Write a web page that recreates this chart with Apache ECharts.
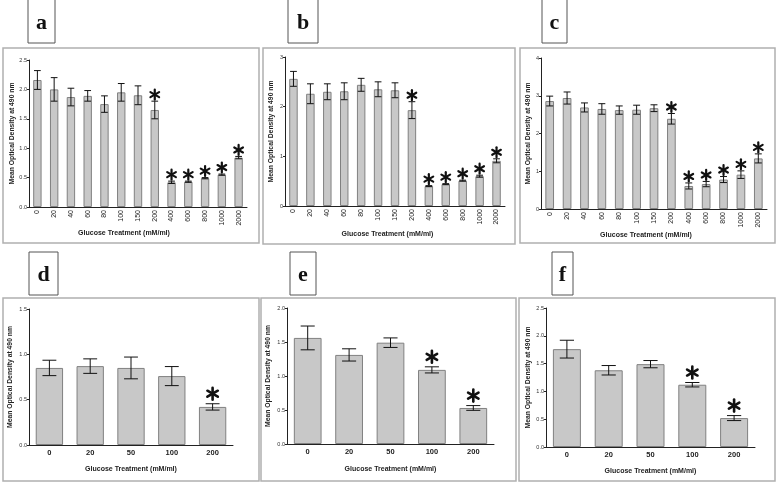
<!DOCTYPE html>
<html lang="en">
<head>
<meta charset="UTF-8">
<title>Glucose treatment</title>
<script src="https://cdn.jsdelivr.net/npm/echarts@6/dist/echarts.min.js"></script>
<style>
  html, body { margin: 0; padding: 0; background: #fff; }
  #main { width: 778px; height: 483px; }
</style>
</head>
<body>
<div id="main"></div>
<script>
// categories
var catsTop = ['0', '20', '40', '60', '80', '100', '150', '200', '400', '600', '800', '1000', '2000'];
var catsBottom = ['0', '20', '50', '100', '200'];

// mean values and error bars
var meanA = [2.16, 2.00, 1.87, 1.89, 1.75, 1.95, 1.90, 1.65, 0.42, 0.43, 0.49, 0.55, 0.84];
var errA  = [0.16, 0.20, 0.15, 0.09, 0.14, 0.15, 0.16, 0.15, 0.02, 0.01, 0.01, 0.01, 0.02];
var meanB = [2.56, 2.26, 2.30, 2.31, 2.44, 2.35, 2.33, 1.93, 0.40, 0.44, 0.51, 0.60, 0.91];
var errB  = [0.15, 0.20, 0.16, 0.17, 0.13, 0.15, 0.15, 0.17, 0.01, 0.01, 0.01, 0.02, 0.04];
var meanC = [2.86, 2.94, 2.69, 2.65, 2.62, 2.63, 2.67, 2.39, 0.61, 0.66, 0.78, 0.91, 1.34];
var errC  = [0.13, 0.16, 0.12, 0.14, 0.11, 0.12, 0.09, 0.14, 0.08, 0.07, 0.08, 0.10, 0.12];
var meanD = [0.85, 0.87, 0.85, 0.76, 0.42];
var errD  = [0.085, 0.08, 0.12, 0.105, 0.035];
var meanE = [1.56, 1.31, 1.49, 1.09, 0.53];
var errE  = [0.175, 0.09, 0.07, 0.045, 0.035];
var meanF = [1.76, 1.38, 1.49, 1.12, 0.52];
var errF  = [0.16, 0.085, 0.065, 0.04, 0.045];

// significance stars (1 = star)
var sigTop = [0, 0, 0, 0, 0, 0, 0, 1, 1, 1, 1, 1, 1];
var sigD   = [0, 0, 0, 0, 1];
var sigEF  = [0, 0, 0, 1, 1];

// y axis ranges
var yMax  = [2.5, 3, 4, 1.5, 2, 2.5];
var yStep = [0.5, 1, 1, 0.5, 0.5, 0.5];
var yDecimals = [1, 0, 0, 1, 1, 1];
var letters = ['a', 'b', 'c', 'd', 'e', 'f'];

var yName = 'Mean Optical Density at 490 nm';
var xName = 'Glucose Treatment (mM/ml)';

var panels = [
    {cats: catsTop, mean: meanA, err: errA, sig: sigTop},
    {cats: catsTop, mean: meanB, err: errB, sig: sigTop},
    {cats: catsTop, mean: meanC, err: errC, sig: sigTop},
    {cats: catsBottom, mean: meanD, err: errD, sig: sigD},
    {cats: catsBottom, mean: meanE, err: errE, sig: sigEF},
    {cats: catsBottom, mean: meanF, err: errF, sig: sigEF}
];

// layout
var grids = [
    {left: 29, top: 60, width: 218, height: 147},
    {left: 285, top: 57, width: 220, height: 149},
    {left: 541, top: 58, width: 226, height: 151},
    {left: 29, top: 309, width: 204, height: 136},
    {left: 287, top: 308, width: 207, height: 136},
    {left: 546, top: 308, width: 209, height: 139}
];
var yNameGap = [13, 10, 9, 15, 15, 14];
var xNameGap = [23, 25, 23, 21, 22, 21];
var xNameShift = [28, 15, 16, 0, 0, 0];
var frames = [
    [3, 48, 256, 195], [263, 48, 252, 196], [520, 48, 255, 195],
    [3, 298, 256, 183], [261, 298, 255, 183], [519, 298, 256, 183]
];
var labelBoxes = [
    [28, -1, 27, 44], [288, -1, 30, 44], [542, -1, 25, 44],
    [29, 252, 29, 43], [290, 252, 26, 43], [552, 252, 21, 43]
];

var chart = echarts.init(document.getElementById('main'));

function errRender(top, capRatio, starR, starGap, starW) {
    return function (params, api) {
        var i = api.value(0);
        var m = api.value(1);
        var e = api.value(2);
        var s = api.value(3);
        var hi = api.coord([i, m + e]);
        var lo = api.coord([i, m - e]);
        var half = api.size([1, 0])[0] * capRatio;
        var st = {stroke: '#111', lineWidth: 1};
        var children = [
            {type: 'line', shape: {x1: hi[0], y1: hi[1], x2: lo[0], y2: lo[1]}, style: st},
            {type: 'line', shape: {x1: hi[0] - half, y1: hi[1], x2: hi[0] + half, y2: hi[1]}, style: st},
            {type: 'line', shape: {x1: lo[0] - half, y1: lo[1], x2: lo[0] + half, y2: lo[1]}, style: st}
        ];
        if (s) {
            var cx = hi[0], cy = hi[1] - starGap - starR;
            [90, 30, 150].forEach(function (a) {
                var r = a * Math.PI / 180;
                var dx = Math.cos(r) * starR, dy = Math.sin(r) * starR;
                children.push({
                    type: 'line',
                    shape: {x1: cx - dx, y1: cy - dy, x2: cx + dx, y2: cy + dy},
                    style: {stroke: '#111', lineWidth: starW, lineCap: 'round'}
                });
            });
        }
        return {type: 'group', children: children};
    };
}

var xAxis = [], yAxis = [], series = [], graphic = [];

panels.forEach(function (p, k) {
    var top = k < 3;
    xAxis.push({
        type: 'category', gridIndex: k, data: p.cats,
        name: xName, nameLocation: 'middle', nameGap: xNameGap[k],
        nameTextStyle: {fontFamily: 'Liberation Sans', fontWeight: 'bold', fontSize: 7, color: '#222',
            padding: [0, xNameShift[k], 0, 0]},
        axisLine: {lineStyle: {color: '#222', width: 1}},
        axisTick: {alignWithLabel: true, length: 2, lineStyle: {color: '#222'}},
        axisLabel: {
            interval: 0, rotate: top ? 90 : 0, margin: top ? 3 : 4,
            fontFamily: 'Liberation Sans', fontSize: top ? 7 : 7.5,
            fontWeight: top ? 'normal' : 'bold', color: '#222'
        }
    });
    yAxis.push({
        type: 'value', gridIndex: k, min: 0, max: yMax[k], interval: yStep[k],
        name: yName, nameLocation: 'middle', nameGap: yNameGap[k],
        nameTextStyle: {fontFamily: 'Liberation Sans', fontWeight: 'bold', fontSize: 6.8, color: '#222'},
        axisLine: {show: true, lineStyle: {color: '#222', width: 1}},
        axisTick: {show: true, length: 2, lineStyle: {color: '#222'}},
        splitLine: {show: false},
        axisLabel: {
            fontFamily: 'Liberation Sans', fontSize: 5.5, color: '#333', margin: 2,
            formatter: function (v) { return v.toFixed(yDecimals[k]); }
        }
    });
    series.push({
        type: 'bar', xAxisIndex: k, yAxisIndex: k, data: p.mean,
        barWidth: top ? '50%' : '67%',
        itemStyle: {color: '#c8c8c8', borderColor: '#808080', borderWidth: 1},
        silent: true
    });
    series.push({
        type: 'custom', xAxisIndex: k, yAxisIndex: k,
        renderItem: top ? errRender(true, 0.2, 5, 1.5, 2.2) : errRender(false, 0.17, 6, 4, 2.6),
        encode: {x: 0, y: 1},
        data: p.mean.map(function (m, i) { return [i, m, p.err[i], p.sig[i]]; }),
        z: 3, silent: true
    });

    var f = frames[k];
    graphic.push({
        type: 'rect', shape: {x: f[0], y: f[1], width: f[2], height: f[3]},
        style: {fill: 'none', stroke: '#b0b0b0', lineWidth: 1.5}
    });
    var b = labelBoxes[k];
    graphic.push({
        type: 'rect', shape: {x: b[0], y: b[1], width: b[2], height: b[3]},
        style: {fill: '#fff', stroke: '#555', lineWidth: 1}
    });
    graphic.push({
        type: 'text', x: b[0] + b[2] / 2, y: b[1] + b[3] - 9,
        style: {text: letters[k], font: 'bold 22px "Liberation Serif"', fill: '#111',
            textAlign: 'center', textVerticalAlign: 'bottom'}
    });
});

chart.setOption({
    backgroundColor: '#fff',
    animation: false,
    grid: grids,
    xAxis: xAxis,
    yAxis: yAxis,
    series: series,
    graphic: graphic
});
</script>
</body>
</html>
